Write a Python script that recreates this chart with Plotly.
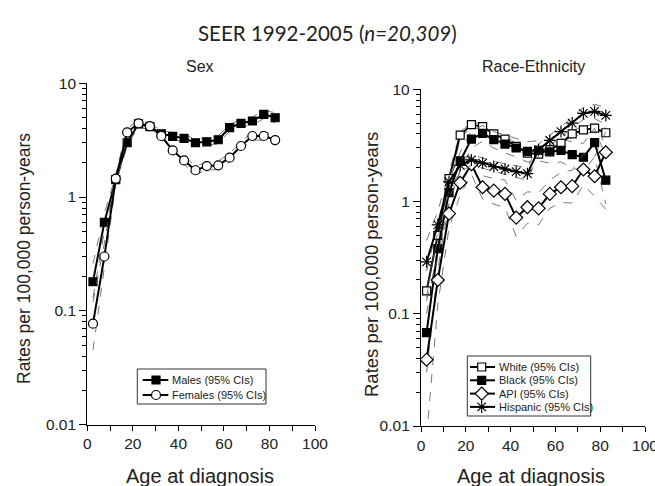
import plotly.graph_objects as go

# ---------------- data ----------------
ages = [2.5, 7.5, 12.5, 17.5, 22.5, 27.5, 32.5, 37.5, 42.5, 47.5,
        52.5, 57.5, 62.5, 67.5, 72.5, 77.5, 82.5]

# Sex panel
males = [0.18, 0.60, 1.42, 3.0, 4.4, 4.15, 3.6, 3.42, 3.28, 3.0,
         3.06, 3.19, 4.07, 4.45, 4.66, 5.34, 4.98]
males_lo = [0.13, 0.50, 1.30, 2.80, 4.15, 3.90, 3.40, 3.20, 3.05, 2.80,
            2.85, 2.95, 3.80, 4.15, 4.30, 4.90, 4.50]
males_hi = [0.26, 0.72, 1.55, 3.20, 4.65, 4.40, 3.85, 3.65, 3.50, 3.25,
            3.30, 3.45, 4.35, 4.80, 5.05, 5.80, 5.50]

females = [0.077, 0.30, 1.45, 3.7, 4.45, 4.2, 3.44, 2.57, 2.10, 1.72,
           1.87, 1.90, 2.22, 2.81, 3.44, 3.44, 3.17]
females_lo = [0.045, 0.23, 1.30, 3.40, 4.15, 3.90, 3.20, 2.38, 1.95, 1.58,
              1.72, 1.75, 2.05, 2.60, 3.18, 3.15, 2.85]
females_hi = [0.12, 0.39, 1.60, 4.00, 4.75, 4.50, 3.70, 2.78, 2.28, 1.87,
              2.03, 2.07, 2.42, 3.05, 3.73, 3.75, 3.50]

# Race-Ethnicity panel
white = [0.16, 0.50, 1.60, 3.9, 4.85, 4.65, 4.0, 3.6, 3.1, 2.7,
         2.65, 2.9, 3.3, 4.0, 4.35, 4.5, 4.1]
white_lo = [0.10, 0.40, 1.42, 3.65, 4.6, 4.4, 3.78, 3.4, 2.92, 2.55,
            2.5, 2.72, 3.1, 3.75, 4.05, 4.15, 3.75]
white_hi = [0.24, 0.62, 1.80, 4.15, 5.1, 4.92, 4.25, 3.82, 3.3, 2.88,
            2.82, 3.1, 3.52, 4.28, 4.68, 4.88, 4.5]

black = [0.068, 0.38, 1.2, 2.3, 3.6, 4.05, 3.56, 3.25, 3.0, 2.8,
         2.86, 2.77, 2.86, 2.62, 2.48, 3.35, 1.55]
black_lo = [0.03, 0.25, 0.95, 1.9, 3.0, 3.45, 3.0, 2.7, 2.5, 2.25,
            2.3, 2.2, 2.25, 2.0, 1.85, 2.5, 0.95]
black_hi = [0.14, 0.55, 1.5, 2.75, 4.3, 4.75, 4.2, 3.9, 3.65, 3.4,
            3.5, 3.45, 3.6, 3.4, 3.3, 4.5, 2.5]

api = [0.039, 0.20, 0.78, 1.47, 2.15, 1.34, 1.25, 1.17, 0.72, 0.89,
       0.87, 1.17, 1.34, 1.37, 1.93, 1.68, 2.75]
api_lo = [0.008, 0.12, 0.58, 1.15, 1.75, 1.05, 0.95, 0.88, 0.49, 0.64,
          0.62, 0.87, 0.98, 0.97, 1.4, 1.12, 0.85]
api_hi = [0.13, 0.32, 1.05, 1.85, 2.65, 1.7, 1.6, 1.55, 1.02, 1.22,
          1.2, 1.55, 1.82, 1.9, 2.65, 2.5, 4.2]

hispanic = [0.29, 0.62, 1.5, 2.1, 2.35, 2.2, 2.05, 1.95, 1.85, 1.77,
            2.9, 3.5, 4.2, 5.0, 6.1, 6.35, 5.85]
hispanic_lo = [0.17, 0.45, 1.25, 1.85, 2.1, 1.98, 1.85, 1.75, 1.64, 1.55,
               2.6, 3.15, 3.75, 4.45, 5.4, 5.5, 4.85]
hispanic_hi = [0.45, 0.82, 1.78, 2.38, 2.62, 2.45, 2.28, 2.17, 2.08, 2.0,
               3.25, 3.9, 4.7, 5.6, 6.9, 7.35, 6.9]

x_tickvals = [0, 10, 20, 30, 40, 50, 60, 70, 80, 90, 100]
x_ticktext = ["0", "", "20", "", "40", "", "60", "", "80", "", "100"]
y_tickvals = [0.01, 0.1, 1, 10]
y_ticktext = ["0.01", "0.1", "1", "10"]
y_minor = [m * d for d in (0.01, 0.1, 1) for m in (2, 3, 4, 5, 6, 7, 8, 9)]

sex_names = ["Males (95% CIs)", "Females (95% CIs)"]
race_names = ["White (95% CIs)", "Black (95% CIs)", "API (95% CIs)",
              "Hispanic (95% CIs)"]

FONT = "Liberation Sans, Arial, sans-serif"
W, H = 655, 486

fig = go.Figure()

CI_STYLE = dict(color="#555555", width=0.8, dash="dash")
STYLES = {
    "Males (95% CIs)": ("square", "black", 8),
    "Females (95% CIs)": ("circle", "white", 9),
    "White (95% CIs)": ("square", "white", 8),
    "Black (95% CIs)": ("square", "black", 8),
    "API (95% CIs)": ("diamond", "white", 10),
    "Hispanic (95% CIs)": ("asterisk-open", "black", 10),
}


def marker(name):
    sym, fill, size = STYLES[name]
    return dict(symbol=sym, size=size, color=fill,
                line=dict(color="black", width=1.2))


def add_series(name, y, lo, hi, xa, ya):
    for band in (lo, hi):
        fig.add_trace(go.Scatter(x=ages, y=band, mode="lines", line=CI_STYLE,
                                 xaxis=xa, yaxis=ya, showlegend=False,
                                 hoverinfo="skip"))
    fig.add_trace(go.Scatter(
        x=ages, y=y, mode="lines+markers", name=name,
        line=dict(color="black", width=2), marker=marker(name),
        xaxis=xa, yaxis=ya, showlegend=False))


add_series(sex_names[0], males, males_lo, males_hi, "x", "y")
add_series(sex_names[1], females, females_lo, females_hi, "x", "y")
add_series(race_names[0], white, white_lo, white_hi, "x2", "y2")
add_series(race_names[1], black, black_lo, black_hi, "x2", "y2")
add_series(race_names[2], api, api_lo, api_hi, "x2", "y2")
add_series(race_names[3], hispanic, hispanic_lo, hispanic_hi, "x2", "y2")

# ---------- hand-built legends (pixel overlay axis x3/y3) ----------
shapes = []
anns = []


def legend_box(names, box, rows, line_x, mark_x, text_x):
    x0, y0, x1, y1 = box
    shapes.append(dict(type="rect", xref="x3", yref="y3", x0=x0, y0=y0,
                       x1=x1, y1=y1, line=dict(color="#333", width=1),
                       fillcolor="white", layer="below"))
    for name, ry in zip(names, rows):
        fig.add_trace(go.Scatter(x=[line_x[0], mark_x, line_x[1]],
                                 y=[ry, ry, ry], mode="lines",
                                 line=dict(color="black", width=2),
                                 xaxis="x3", yaxis="y3", showlegend=False,
                                 hoverinfo="skip"))
        fig.add_trace(go.Scatter(x=[mark_x], y=[ry], mode="markers",
                                 marker=marker(name), xaxis="x3", yaxis="y3",
                                 showlegend=False, hoverinfo="skip"))
        anns.append(dict(text=name, x=text_x, y=ry, xref="x3", yref="y3",
                         showarrow=False, xanchor="left", yanchor="middle",
                         font=dict(family=FONT, size=11, color="#222")))


def xaxis(domain, anchor):
    return dict(domain=domain, anchor=anchor, range=[0, 100], showgrid=False,
                zeroline=False, showline=True, linecolor="black", linewidth=1.3,
                ticks="outside", ticklen=5, tickwidth=1.3, tickcolor="black",
                tickmode="array", tickvals=x_tickvals, ticktext=x_ticktext,
                automargin=False, ticklabeloverflow="allow",
                tickfont=dict(family=FONT, size=15.5, color="#222"))


def yaxis(domain, anchor):
    return dict(domain=domain, anchor=anchor, type="log", range=[-2, 1],
                showgrid=False, zeroline=False, showline=True,
                linecolor="black", linewidth=1.3, ticks="outside", ticklen=7,
                tickwidth=1.3, tickcolor="black", tickmode="array",
                tickvals=y_tickvals, ticktext=y_ticktext, automargin=False,
                tickfont=dict(family=FONT, size=15.5, color="#222"),
                minor=dict(tickmode="array", tickvals=y_minor, ticks="outside",
                           ticklen=4, tickwidth=1, tickcolor="black",
                           showgrid=False))


legend_box(sex_names, (137.3, 369, 266, 404), [380, 395],
           (142.7, 168.3), 156, 170)
legend_box(race_names, (467.3, 356, 590.7, 416), [367, 380.3, 393.6, 406.9],
           (470, 495), 481.7, 496.7)


def ann(text, px, py, size, angle=0, family=FONT):
    anns.append(dict(text=text, x=px / W, y=1 - py / H, xref="paper",
                     yref="paper", showarrow=False, textangle=angle,
                     xanchor="center", yanchor="middle",
                     font=dict(family=family, size=size, color="#222")))


ann("SEER 1992-2005 (<i>n=20,309</i>)", 327, 33, 20.5,
    family="Lato, Open Sans, sans-serif")
ann("Sex", 200, 67, 16)
ann("Race-Ethnicity", 533, 67, 16)
ann("Rates per 100,000 person-years", 24, 259, 17.5, angle=-90)
ann("Rates per 100,000 person-years", 371, 265, 18.5, angle=-90)
ann("Age at diagnosis", 200, 476, 20)
ann("Age at diagnosis", 531, 476, 20)

fig.update_layout(
    width=W, height=H, margin=dict(l=0, r=0, t=0, b=0, autoexpand=False),
    paper_bgcolor="white", plot_bgcolor="rgba(0,0,0,0)", showlegend=False,
    xaxis=xaxis([87.3 / W, 315 / W], "y"),
    yaxis=yaxis([1 - 424.5 / H, 1 - 83.3 / H], "x"),
    xaxis2=xaxis([421 / W, 645 / W], "y2"),
    yaxis2=yaxis([1 - 426 / H, 1 - 89.3 / H], "x2"),
    xaxis3=dict(domain=[0, 1], range=[0, W], visible=False, fixedrange=True,
                anchor="y3"),
    yaxis3=dict(domain=[0, 1], range=[H, 0], visible=False, fixedrange=True,
                anchor="x3"),
    shapes=shapes,
    annotations=anns,
)

fig.write_html(
    "out.html",
    config={"displayModeBar": False},
    post_script="document.body.style.margin='0';"
                "document.body.style.overflow='hidden';",
)
